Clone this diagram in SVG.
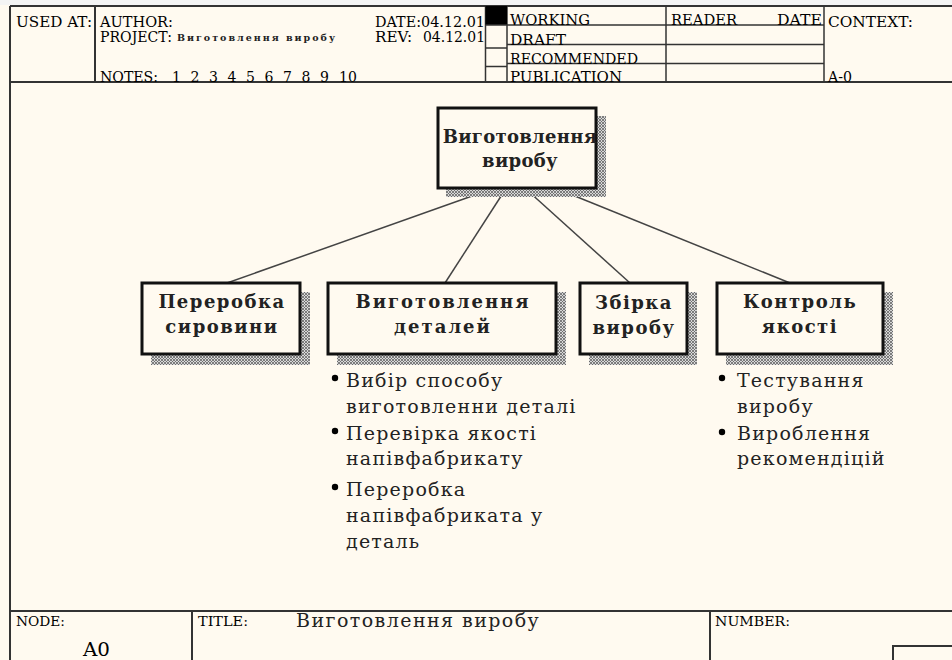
<svg xmlns="http://www.w3.org/2000/svg" width="952" height="660" viewBox="0 0 952 660">
<style>
.hd{font-family:"DejaVu Serif","Liberation Serif",serif;font-size:14px;fill:#000}
.ft{font-family:"DejaVu Serif","Liberation Serif",serif;font-size:13px;fill:#000}
.sm{font-family:"DejaVu Serif","Liberation Serif",serif;font-size:9.5px;font-weight:bold;fill:#222}
.nt{font-family:"DejaVu Serif","Liberation Serif",serif;font-size:18px;font-weight:bold;fill:#222;text-anchor:middle;letter-spacing:1.5px}
.bt{font-family:"DejaVu Serif","Liberation Serif",serif;font-size:19px;fill:#222;letter-spacing:1.2px}
.fr{fill:none;stroke:#333;stroke-width:2}
.ln{fill:none;stroke:#333;stroke-width:1.5}
.box{fill:#fffaf0;stroke:#111;stroke-width:3}
.sh{fill:url(#hatch)}
.con{stroke:#444;stroke-width:1.5;fill:none}
</style>
<defs>
<pattern id="hatch" width="3" height="3" patternUnits="userSpaceOnUse">
<rect width="3" height="3" fill="#d8d8d8"/>
<path d="M0,0 L3,3 M3,0 L0,3" stroke="#666" stroke-width="0.8"/>
</pattern>
</defs>
<rect width="952" height="660" fill="#fffaf0"/>
<rect width="952" height="5" fill="#f4f4f4"/>

<g id="frame">
<line class="fr" x1="10" y1="6" x2="952" y2="6"/>
<line class="fr" x1="10" y1="6" x2="10" y2="660"/>
<line class="fr" x1="10" y1="82" x2="952" y2="82"/>
<line class="fr" x1="95" y1="6" x2="95" y2="82"/>
<line class="ln" x1="485.5" y1="6" x2="485.5" y2="82"/>
<line class="ln" x1="507" y1="6" x2="507" y2="82"/>
<line class="ln" x1="666" y1="6" x2="666" y2="82"/>
<line class="ln" x1="824" y1="6" x2="824" y2="82"/>
<rect x="485.5" y="6" width="21.5" height="19" fill="#000"/>
<line class="ln" x1="485.5" y1="25" x2="824" y2="25"/>
<line class="ln" x1="507" y1="44.5" x2="824" y2="44.5"/>
<line class="ln" x1="507" y1="63.5" x2="824" y2="63.5"/>
<line class="ln" x1="485.5" y1="48" x2="507" y2="48"/>
<line class="ln" x1="485.5" y1="66.5" x2="507" y2="66.5"/>
<line class="fr" x1="10" y1="611" x2="952" y2="611"/>
<line class="fr" x1="192" y1="611" x2="192" y2="660"/>
<line class="fr" x1="710" y1="611" x2="710" y2="660"/>
<path class="fr" d="M893,660 V646 H952"/>
</g>

<g id="header-text">
<text class="hd" x="16" y="26.5" textLength="76" lengthAdjust="spacingAndGlyphs">USED AT:</text>
<text class="hd" x="100" y="26.5" textLength="73" lengthAdjust="spacingAndGlyphs">AUTHOR:</text>
<text class="hd" x="100" y="41.5" textLength="72" lengthAdjust="spacingAndGlyphs">PROJECT:</text>
<text class="sm" x="177" y="41" textLength="158" lengthAdjust="spacing">Виготовлення виробу</text>
<text class="hd" x="100" y="81.5" textLength="58" lengthAdjust="spacingAndGlyphs">NOTES:</text>
<text class="hd" x="172" y="81.5">1</text>
<text class="hd" x="190.5" y="81.5">2</text>
<text class="hd" x="209" y="81.5">3</text>
<text class="hd" x="227.5" y="81.5">4</text>
<text class="hd" x="246" y="81.5">5</text>
<text class="hd" x="264.5" y="81.5">6</text>
<text class="hd" x="283" y="81.5">7</text>
<text class="hd" x="301.5" y="81.5">8</text>
<text class="hd" x="320" y="81.5">9</text>
<text class="hd" x="339" y="81.5">10</text>
<text class="hd" x="375" y="26.5" textLength="110" lengthAdjust="spacingAndGlyphs">DATE:04.12.01</text>
<text class="hd" x="375" y="41.5" textLength="37" lengthAdjust="spacingAndGlyphs">REV:</text>
<text class="hd" x="423" y="41.5" textLength="62" lengthAdjust="spacingAndGlyphs">04.12.01</text>
<text class="hd" x="510" y="25" textLength="80" lengthAdjust="spacingAndGlyphs">WORKING</text>
<text class="hd" x="510" y="44.5" textLength="56" lengthAdjust="spacingAndGlyphs">DRAFT</text>
<text class="hd" x="510" y="63.5" textLength="128" lengthAdjust="spacingAndGlyphs">RECOMMENDED</text>
<text class="hd" x="510" y="81.5" textLength="112" lengthAdjust="spacingAndGlyphs">PUBLICATION</text>
<text class="hd" x="671" y="25" textLength="66" lengthAdjust="spacingAndGlyphs">READER</text>
<text class="hd" x="777" y="25" textLength="45" lengthAdjust="spacingAndGlyphs">DATE</text>
<text class="hd" x="828" y="26.5" textLength="85" lengthAdjust="spacingAndGlyphs">CONTEXT:</text>
<text class="hd" x="828" y="81.5" textLength="24" lengthAdjust="spacingAndGlyphs">A-0</text>
</g>

<g id="footer-text">
<text class="ft" x="16" y="626" textLength="49" lengthAdjust="spacingAndGlyphs">NODE:</text>
<text class="hd" x="83" y="656" style="font-size:18px" textLength="27" lengthAdjust="spacingAndGlyphs">A0</text>
<text class="ft" x="198" y="626" textLength="50" lengthAdjust="spacingAndGlyphs">TITLE:</text>
<text class="bt" x="296" y="627" textLength="244" lengthAdjust="spacing">Виготовлення виробу</text>
<text class="ft" x="715" y="626" textLength="75" lengthAdjust="spacingAndGlyphs">NUMBER:</text>
</g>

<g id="connectors">
<line class="con" x1="489" y1="190" x2="227" y2="283"/>
<line class="con" x1="505" y1="190" x2="445" y2="283"/>
<line class="con" x1="527" y1="190" x2="630" y2="283"/>
<line class="con" x1="560" y1="190" x2="790" y2="283"/>
</g>

<g id="node-A0">
<rect class="sh" x="446" y="116" width="160" height="81"/>
<rect class="box" x="438" y="108" width="158" height="80"/>
<text class="nt" x="520" y="143" style="letter-spacing:0.3px">Виготовлення</text>
<text class="nt" x="520" y="167" style="letter-spacing:0.3px">виробу</text>
</g>

<g id="node-A1">
<rect class="sh" x="151" y="292" width="159" height="73"/>
<rect class="box" x="142" y="283" width="158" height="71"/>
<text class="nt" x="222" y="308">Переробка</text>
<text class="nt" x="222" y="333">сировини</text>
</g>

<g id="node-A2">
<rect class="sh" x="337" y="292" width="229" height="73"/>
<rect class="box" x="328" y="283" width="228" height="71"/>
<text class="nt" x="443" y="308" style="letter-spacing:2px">Виготовлення</text>
<text class="nt" x="443" y="333" style="letter-spacing:2px">деталей</text>
</g>

<g id="node-A3">
<rect class="sh" x="589" y="292" width="108" height="73"/>
<rect class="box" x="580" y="283" width="107" height="71"/>
<text class="nt" x="634" y="309">Збірка</text>
<text class="nt" x="634" y="334">виробу</text>
</g>

<g id="node-A4">
<rect class="sh" x="726" y="292" width="167" height="73"/>
<rect class="box" x="717" y="283" width="166" height="71"/>
<text class="nt" x="800" y="308">Контроль</text>
<text class="nt" x="800" y="333">якості</text>
</g>

<g id="notes-A2">
<circle cx="335" cy="378" r="3.2"/>
<circle cx="335" cy="431" r="3.2"/>
<circle cx="335" cy="487" r="3.2"/>
<text class="bt" x="346" y="387">Вибір способу</text>
<text class="bt" x="346" y="413">виготовленни деталі</text>
<text class="bt" x="346" y="440">Перевірка якості</text>
<text class="bt" x="346" y="465">напівфабрикату</text>
<text class="bt" x="346" y="496">Переробка</text>
<text class="bt" x="346" y="522">напівфабриката у</text>
<text class="bt" x="346" y="548">деталь</text>
</g>

<g id="notes-A4">
<circle cx="722" cy="378" r="3.2"/>
<circle cx="722" cy="432" r="3.2"/>
<text class="bt" x="737" y="387">Тестування</text>
<text class="bt" x="737" y="413">виробу</text>
<text class="bt" x="737" y="440">Вироблення</text>
<text class="bt" x="737" y="465">рекомендіцій</text>
</g>
</svg>
